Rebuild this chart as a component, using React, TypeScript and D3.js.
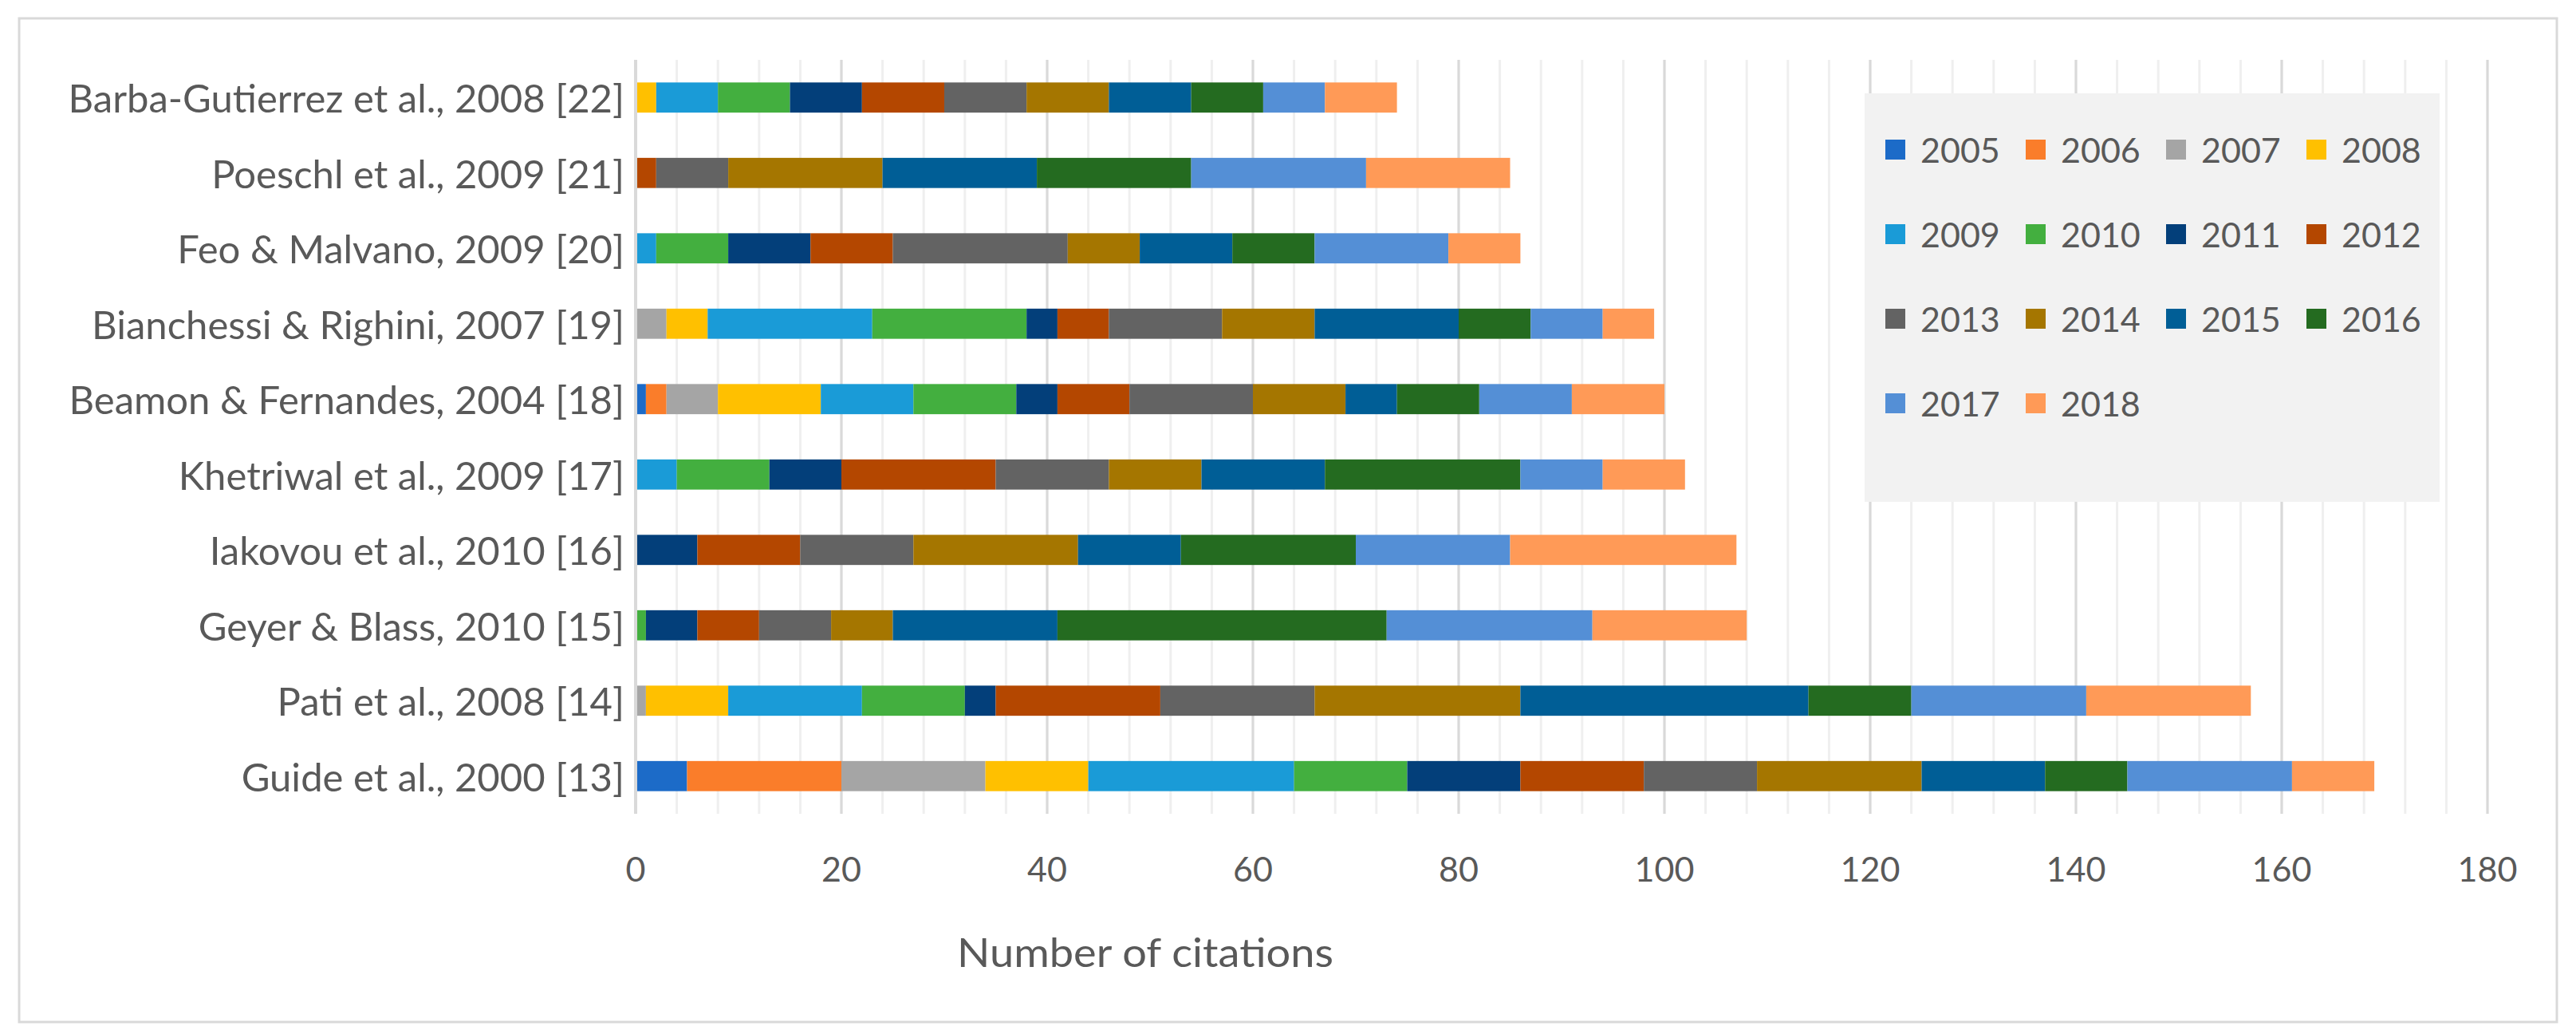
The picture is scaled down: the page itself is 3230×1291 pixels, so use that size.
import React from "react";
import * as d3 from "d3";

const categories = [
  "Barba-Gutierrez et al., 2008 [22]",
  "Poeschl et al., 2009 [21]",
  "Feo & Malvano, 2009 [20]",
  "Bianchessi & Righini, 2007 [19]",
  "Beamon & Fernandes, 2004 [18]",
  "Khetriwal et al., 2009 [17]",
  "Iakovou et al., 2010 [16]",
  "Geyer & Blass, 2010 [15]",
  "Pati et al., 2008 [14]",
  "Guide et al., 2000 [13]",
];

const years = ["2005","2006","2007","2008","2009","2010","2011","2012","2013","2014","2015","2016","2017","2018"];

const y2005 = [0, 0, 0, 0, 1, 0, 0, 0, 0, 5];
const y2006 = [0, 0, 0, 0, 2, 0, 0, 0, 0, 15];
const y2007 = [0, 0, 0, 3, 5, 0, 0, 0, 1, 14];
const y2008 = [2, 0, 0, 4, 10, 0, 0, 0, 8, 10];
const y2009 = [6, 0, 2, 16, 9, 4, 0, 0, 13, 20];
const y2010 = [7, 0, 7, 15, 10, 9, 0, 1, 10, 11];
const y2011 = [7, 0, 8, 3, 4, 7, 6, 5, 3, 11];
const y2012 = [8, 2, 8, 5, 7, 15, 10, 6, 16, 12];
const y2013 = [8, 7, 17, 11, 12, 11, 11, 7, 15, 11];
const y2014 = [8, 15, 7, 9, 9, 9, 16, 6, 20, 16];
const y2015 = [8, 15, 9, 14, 5, 12, 10, 16, 28, 12];
const y2016 = [7, 15, 8, 7, 8, 19, 17, 32, 10, 8];
const y2017 = [6, 17, 13, 7, 9, 8, 15, 20, 17, 16];
const y2018 = [7, 14, 7, 5, 9, 8, 22, 15, 16, 8];

const seriesValues = [y2005, y2006, y2007, y2008, y2009, y2010, y2011, y2012, y2013, y2014, y2015, y2016, y2017, y2018];

const colors = [
  "#1C6BC8", "#FA7D2A", "#A5A5A5", "#FFC000", "#1A9BD7", "#43AF3F", "#033F7A",
  "#B44700", "#636363", "#A57600", "#005E96", "#246B20", "#548FD6", "#FF9A57",
];

const xTicks = [0, 20, 40, 60, 80, 100, 120, 140, 160, 180];
const xMinorTicks = d3.range(0, 181, 4);

const W = 3230;
const H = 1291;
const margin = { left: 797, right: W - 3119, top: 75, bottom: H - 1020 };
const FONT = "Lato, 'Open Sans', sans-serif";
const TEXT = "#595959";

export default function App() {
  const rows = categories.map((c, i) => {
    const r: any = { cat: c };
    years.forEach((y, j) => (r[y] = seriesValues[j][i]));
    return r;
  });
  const stacked = d3.stack<any>().keys(years)(rows);

  const x = d3.scaleLinear().domain([0, 180]).range([margin.left, W - margin.right]);
  const y = d3
    .scaleBand<string>()
    .domain(categories)
    .range([margin.top, H - margin.bottom])
    .paddingInner(0.6)
    .paddingOuter(0.3);

  const legX0 = 2338;
  const legY0 = 117;
  const colW = 176;
  const rowH = 106;

  return (
    <svg
      width={W}
      height={H}
      style={{ position: "absolute", left: 0, top: 0, background: "#fff" }}
      fontFamily={FONT}
    >
      <rect x={24} y={23} width={3182} height={1258} fill="#fff" stroke="#D9D9D9" strokeWidth={3} />
      {xMinorTicks.map((t) => (
        <line key={"m" + t} x1={x(t)} x2={x(t)} y1={margin.top} y2={H - margin.bottom} stroke="#EFEFEF" strokeWidth={3} />
      ))}
      {xTicks.map((t) => (
        <line key={"g" + t} x1={x(t)} x2={x(t)} y1={margin.top} y2={H - margin.bottom} stroke="#D9D9D9" strokeWidth={3} />
      ))}
      {stacked.map((s, j) => (
        <g key={s.key} fill={colors[j]}>
          {s.map((d, i) =>
            d[1] - d[0] > 0 ? (
              <rect
                key={i}
                x={x(d[0])}
                y={y(categories[i])}
                width={x(d[1]) - x(d[0])}
                height={y.bandwidth()}
              />
            ) : null
          )}
        </g>
      ))}
      <line x1={x(0)} x2={x(0)} y1={margin.top} y2={H - margin.bottom} stroke="#D9D9D9" strokeWidth={4} />
      {categories.map((c) => (
        <text
          key={c}
          x={margin.left - 14}
          y={(y(c) as number) + y.bandwidth() / 2}
          textAnchor="end"
          dominantBaseline="central"
          fontSize={49}
          fill={TEXT}
        >
          {c}
        </text>
      ))}
      {xTicks.map((t) => (
        <text key={"t" + t} x={x(t)} y={1088} textAnchor="middle" dominantBaseline="central" fontSize={43} fill={TEXT}>
          {t}
        </text>
      ))}
      <text x={1436} y={1193} textAnchor="middle" dominantBaseline="central" fontSize={50} fill={TEXT} textLength={472} lengthAdjust="spacingAndGlyphs">
        Number of citations
      </text>
      <rect x={legX0} y={legY0} width={721} height={512} fill="#F2F2F2" />
      {years.map((yr, j) => {
        const col = j % 4;
        const row = Math.floor(j / 4);
        const cx = legX0 + 26 + col * colW;
        const cy = legY0 + 70 + row * rowH;
        return (
          <g key={yr}>
            <rect x={cx} y={cy - 12} width={25} height={25} fill={colors[j]} />
            <text x={cx + 44} y={cy} dominantBaseline="central" fontSize={43} fill={TEXT}>
              {yr}
            </text>
          </g>
        );
      })}
    </svg>
  );
}
